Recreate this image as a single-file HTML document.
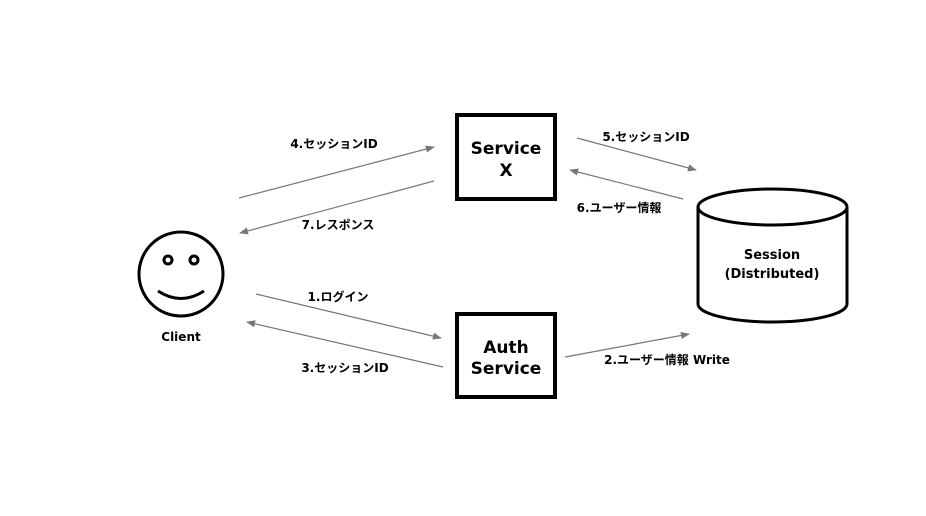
<!DOCTYPE html>
<html><head><meta charset="utf-8"><style>
html,body{margin:0;padding:0;background:#fff;}
svg{display:block;}
text{font-family:"DejaVu Sans","Noto Sans CJK JP",sans-serif;font-weight:bold;fill:#000;}
.lbl{font-size:12px;}
.big{font-size:17px;}
.arr{stroke:#777;stroke-width:1.2;fill:none;}
</style></head><body>
<svg width="926" height="516" viewBox="0 0 926 516">
<defs><marker id="ah" viewBox="0 0 10 10" refX="9" refY="5" markerWidth="9" markerHeight="9" markerUnits="userSpaceOnUse" orient="auto"><path d="M0,1 L10,5 L0,9 z" fill="#777"/></marker></defs>
<rect width="926" height="516" fill="#fff"/>
<g>
<circle cx="181" cy="274" r="42" fill="none" stroke="#000" stroke-width="3"/>
<circle cx="168" cy="260" r="4" fill="none" stroke="#000" stroke-width="3"/>
<circle cx="194" cy="260" r="4" fill="none" stroke="#000" stroke-width="3"/>
<path d="M158,291 Q181,306 204,291" fill="none" stroke="#000" stroke-width="3"/>
<text class="lbl" x="181" y="341" text-anchor="middle">Client</text>
</g>
<g>
<rect x="457" y="115" width="98" height="84" fill="#fff" stroke="#000" stroke-width="4"/>
<text class="big" x="506" y="154" text-anchor="middle">Service</text>
<text class="big" x="506" y="176" text-anchor="middle">X</text>
</g>
<g>
<rect x="457" y="314" width="98" height="83" fill="#fff" stroke="#000" stroke-width="4"/>
<text class="big" x="506" y="353" text-anchor="middle">Auth</text>
<text class="big" x="506" y="374" text-anchor="middle">Service</text>
</g>
<g>
<path d="M698,207 L698,304 A74.5,18 0 0 0 847,304 L847,207" fill="#fff" stroke="#000" stroke-width="3"/>
<ellipse cx="772.5" cy="207" rx="74.5" ry="18" fill="#fff" stroke="#000" stroke-width="3"/>
<text class="lbl" style="font-size:13px" x="772" y="259" text-anchor="middle">Session</text>
<text class="lbl" style="font-size:13px" x="772" y="278" text-anchor="middle">(Distributed)</text>
</g>
<line class="arr" x1="239" y1="198" x2="434" y2="147" marker-end="url(#ah)"/>
<line class="arr" x1="434" y1="181" x2="240" y2="233" marker-end="url(#ah)"/>
<line class="arr" x1="256" y1="294" x2="441" y2="338" marker-end="url(#ah)"/>
<line class="arr" x1="443" y1="367" x2="247" y2="322" marker-end="url(#ah)"/>
<line class="arr" x1="577" y1="138" x2="696" y2="170" marker-end="url(#ah)"/>
<line class="arr" x1="683" y1="199" x2="570" y2="170" marker-end="url(#ah)"/>
<line class="arr" x1="565" y1="357" x2="689" y2="334" marker-end="url(#ah)"/>
<text class="lbl" x="334" y="148" text-anchor="middle">4.セッションID</text>
<text class="lbl" x="338" y="229" text-anchor="middle">7.レスポンス</text>
<text class="lbl" x="338" y="301" text-anchor="middle">1.ログイン</text>
<text class="lbl" x="345" y="372" text-anchor="middle">3.セッションID</text>
<text class="lbl" x="646" y="141" text-anchor="middle">5.セッションID</text>
<text class="lbl" x="619" y="212" text-anchor="middle">6.ユーザー情報</text>
<text class="lbl" x="667" y="364" text-anchor="middle">2.ユーザー情報 Write</text>
</svg>
</body></html>
